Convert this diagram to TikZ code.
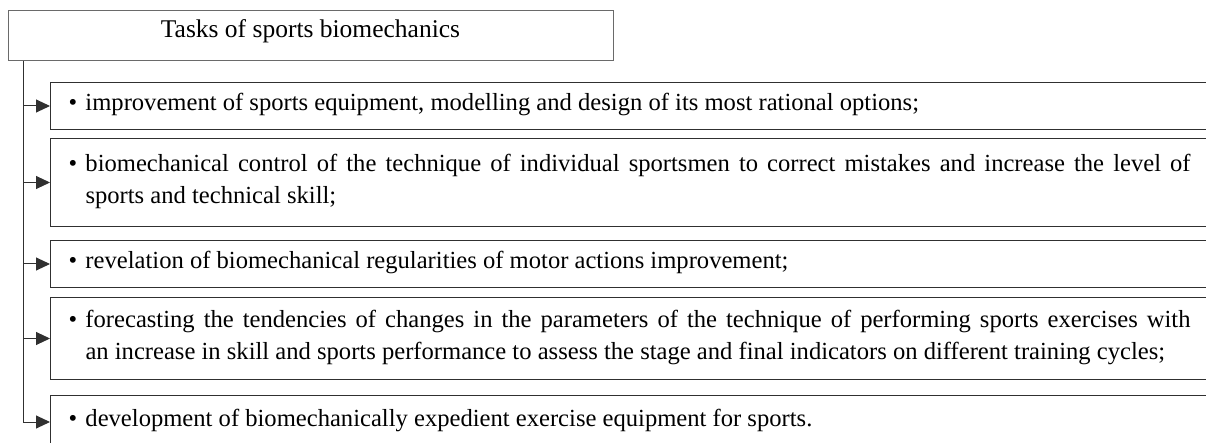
\documentclass[tikz,border=0pt]{standalone}
\usepackage{fontspec}
\setmainfont{Liberation Serif}
\usetikzlibrary{arrows.meta, positioning}
\definecolor{boxLine}{HTML}{303030}
\definecolor{headLine}{HTML}{6A6A6A}
\tikzset{
    headBox/.style={draw=headLine, line width=1pt, minimum width=605pt, minimum height=50pt, inner sep=0pt, text height=12pt, text depth=8pt, font=\fontsize{25.5}{32}\selectfont},
    taskBox/.style={draw=boxLine, line width=1pt, anchor=north west, text width=1122pt, inner xsep=18pt, inner ysep=0pt},
    taskEdge/.style={-{Triangle[length=14pt, width=13pt]}, draw=boxLine, line width=1pt},
}
% bullet, then the justified text hanging beside it
\newcommand{\taskText}[1]{\raisebox{1.5pt}[\height][\depth]{\makebox[17pt][l]{\textbullet}\parbox[t]{1105pt}{\spaceskip=0pt\xspaceskip=0pt\rightskip=0pt #1}}}
\newcommand{\drawTask}[1]{
    \draw[taskEdge] (spine |- #1.west) -- (#1.west);
}

\begin{document}
\begin{tikzpicture}[x=1pt, y=-1pt, font=\fontsize{24.6}{32}\selectfont]
    \useasboundingbox (0,0) rectangle (1206,443);

    \node[headBox] (head) at (310.5, 36) {Tasks of sports biomechanics};
    \coordinate (spine) at (23, 61);

    \node[taskBox, minimum height=47pt] (t1) at (50, 82) {\taskText{improvement of sports equipment, modelling and design of its most rational options;}};
    \node[taskBox, minimum height=88pt] (t2) at (50, 138) {\taskText{biomechanical control of the technique of individual sportsmen to correct mistakes and increase the level of\linebreak sports and technical skill;}};
    \node[taskBox, minimum height=47pt] (t3) at (50, 240) {\taskText{revelation of biomechanical regularities of motor actions improvement;}};
    \node[taskBox, minimum height=82pt] (t4) at (50, 297) {\taskText{forecasting the tendencies of changes in the parameters of the technique of performing sports exercises with\linebreak an increase in skill and sports performance to assess the stage and final indicators on different training cycles;}};
    \node[taskBox, minimum height=53pt] (t5) at (50, 395) {\taskText{development of biomechanically expedient exercise equipment for sports.}};

    \drawTask{t1}
    \drawTask{t2}
    \drawTask{t3}
    \drawTask{t4}
    \draw[taskEdge] (spine) |- (t5.west);

\end{tikzpicture}
\end{document}
